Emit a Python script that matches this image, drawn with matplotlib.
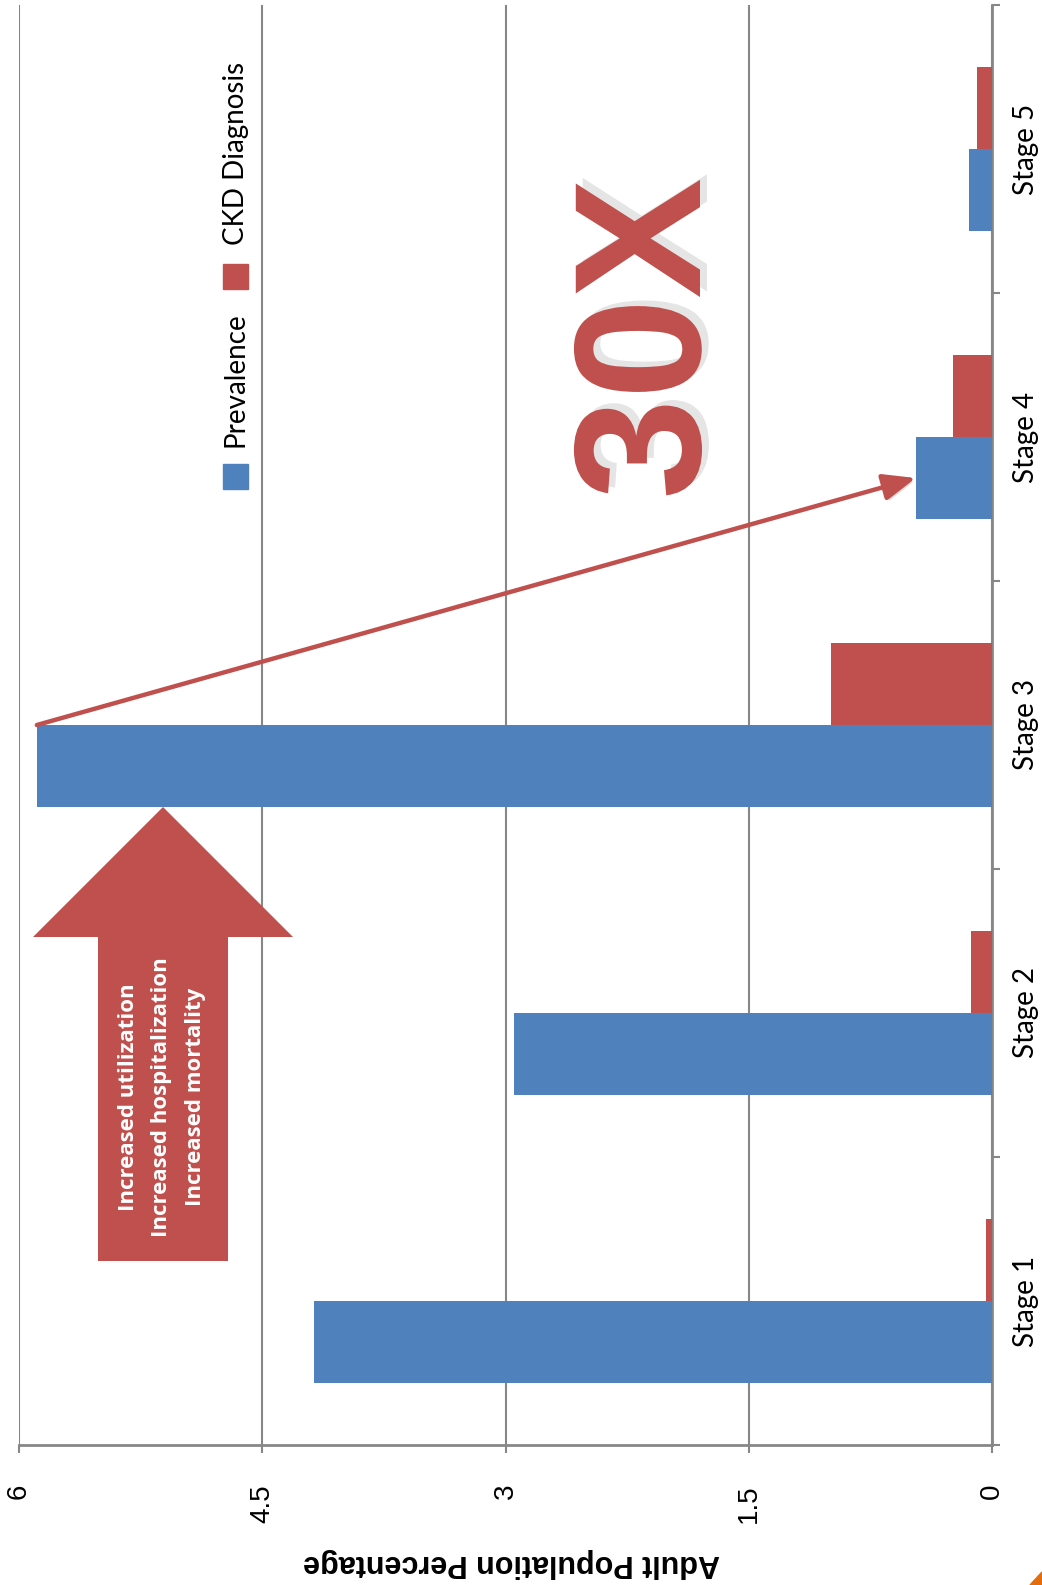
import matplotlib
matplotlib.use('Agg')
import matplotlib.pyplot as plt
import matplotlib.patheffects as pe
from matplotlib.patches import Polygon, Rectangle
import numpy as np

stages = ['Stage 1', 'Stage 2', 'Stage 3', 'Stage 4', 'Stage 5']
prevalence = [4.18, 2.95, 5.89, 0.47, 0.14]
ckd_diagnosis = [0.04, 0.13, 0.99, 0.24, 0.09]
series_names = ['Prevalence', 'CKD Diagnosis']
value_ticks = [0, 1.5, 3, 4.5, 6]
value_labels = ['0', '1.5', '3', '4.5', '6']
impact_lines = ['Increased utilization', 'Increased hospitalization', 'Increased mortality']
multiple_label = '30X'
axis_title = 'Adult Population Percentage'

BLUE = '#4F81BD'
RED = '#C0504D'
GRID = '#878787'

# figure in pixels, helpers to place things by pixel (top-left origin)
W, H = 1042, 1585
def fx(x):
    return x / W
def fy(y):
    return 1 - y / H

fig = plt.figure(figsize=(W / 100, H / 100), dpi=100)
ax = fig.add_axes([fx(19), fy(1445), (992 - 19) / W, (1445 - 5) / H])

y = np.arange(len(stages))
w = 0.285
ax.barh(y - w / 2, prevalence, height=w, color=BLUE, zorder=3)
ax.barh(y + w / 2, ckd_diagnosis, height=w, color=RED, zorder=3)
ax.set_xlim(6, 0)
ax.set_ylim(-0.5, len(stages) - 0.5)

# value axis (bottom)
ax.set_xticks(value_ticks)
ax.set_xticklabels(value_labels, rotation=90, fontsize=20, family='Liberation Sans')
ax.tick_params(axis='x', direction='out', length=6, width=1.5, color=GRID, pad=22)
ax.grid(axis='x', color=GRID, lw=1.5, zorder=0)
ax.set_axisbelow(True)

# category axis (right)
ax.set_yticks(np.arange(len(stages) + 1) - 0.5)
ax.set_yticklabels([])
ax.set_yticks(y, minor=True)
ax.set_yticklabels(stages, minor=True, rotation=90, va='center', fontsize=20, family='Lato')
ax.tick_params(axis='y', which='both', left=False, labelleft=False, right=True, labelright=True)
ax.tick_params(axis='y', which='major', direction='out', length=6, width=1.5, color=GRID)
ax.tick_params(axis='y', which='minor', length=0, pad=15)

for s in ['top', 'left']:
    ax.spines[s].set_visible(False)
for s in ['bottom', 'right']:
    ax.spines[s].set_color(GRID)
    ax.spines[s].set_linewidth(2)

# legend, drawn by hand because it is rotated
legend_items = [(series_names[0], BLUE, 464, 447), (series_names[1], RED, 264, 245)]
for name, col, sq_top, txt_bottom in legend_items:
    fig.patches.append(Rectangle((fx(223), fy(sq_top + 25)), 25 / W, 25 / H,
                                 transform=fig.transFigure, color=col, figure=fig))
    fig.text(fx(236), fy(txt_bottom), name, rotation=90, ha='center', va='bottom',
             fontsize=20, family='Lato')

# red line arrow from stage 3 prevalence to stage 4 prevalence
ann = ax.annotate('', xy=(prevalence[3], 3 - w / 2), xytext=(prevalence[2], 2),
                  arrowprops=dict(arrowstyle='-|>,head_length=1.1,head_width=0.45',
                                  color=RED, lw=3.2, shrinkA=0, shrinkB=0, mutation_scale=18),
                  annotation_clip=False, zorder=5)
ann.arrow_patch.set_path_effects([pe.SimplePatchShadow(offset=(2, -2), alpha=0.15), pe.Normal()])

# block arrow with impact text
pts = [(98, 1261), (98, 937), (33, 937), (163, 807), (293, 937), (228, 937), (228, 1261)]
block = Polygon([(fx(px), fy(py)) for px, py in pts], closed=True, transform=fig.transFigure,
                facecolor=RED, edgecolor='none', figure=fig, zorder=4)
fig.patches.append(block)
fig.text(fx(162), fy(1097), '\n'.join(impact_lines), rotation=90, ha='center', va='center',
         multialignment='center', color='white', fontweight='bold',
         family=['Open Sans', 'DejaVu Sans'], fontsize=16, linespacing=1.75, zorder=6)

# big 30X
fig.text(fx(700), fy(339), multiple_label, rotation=90, rotation_mode='anchor',
         ha='center', va='baseline', fontsize=130, fontweight='bold',
         family='Liberation Sans', color=RED, zorder=6,
         path_effects=[pe.withSimplePatchShadow(offset=(5, 4), shadow_rgbFace='black', alpha=0.1)])

# value axis title, upside down
fig.text(fx(512), fy(1563), axis_title, rotation=180, ha='center', va='center',
         fontsize=22, fontweight='bold', family='Liberation Sans')

# small orange corner mark of the slide
fig.patches.append(Polygon([(fx(1030), fy(1585)), (fx(1042), fy(1572)), (fx(1042), fy(1585))],
                           closed=True, transform=fig.transFigure, color='#E46C0A', figure=fig))

fig.savefig('out.png', dpi=100)
